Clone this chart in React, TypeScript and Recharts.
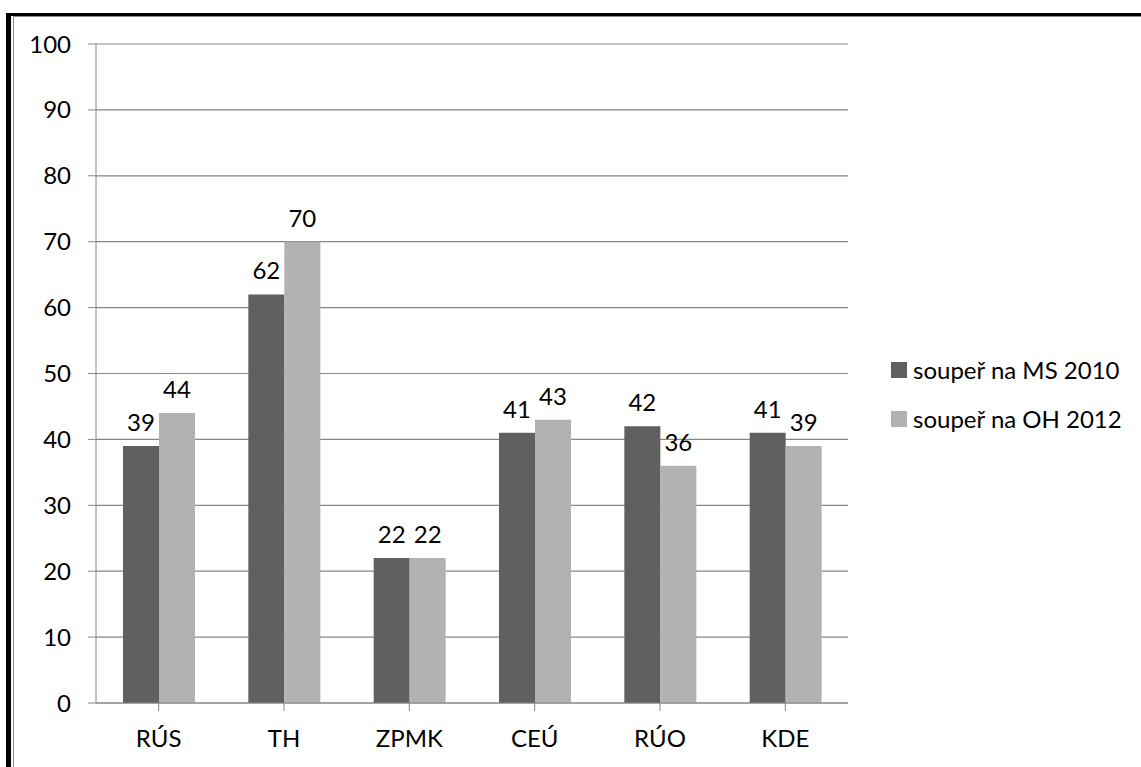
import { BarChart, Bar, XAxis, YAxis, CartesianGrid, Legend, LabelList } from 'recharts';

const categories = ['RÚS', 'TH', 'ZPMK', 'CEÚ', 'RÚO', 'KDE'];
const ms2010 = [39, 62, 22, 41, 42, 41];
const oh2012 = [44, 70, 22, 43, 36, 39];
const yTicks = [0, 10, 20, 30, 40, 50, 60, 70, 80, 90, 100];

const seriesNames = ['soupeř na MS 2010', 'soupeř na OH 2012'];
const seriesColors = ['#606060', '#b2b2b2'];

const data = categories.map((name, i) => ({ name, ms: ms2010[i], oh: oh2012[i] }));

const FONT = 'Lato, "Open Sans", sans-serif';
const FS = 24;
const AXIS_GRAY = '#868686';
const LEGEND_W = 250;

const LegendBox = () => (
  <div style={{ fontFamily: FONT, fontSize: FS, color: '#000' }}>
    {seriesNames.map((n, i) => (
      <div key={n} style={{ display: 'flex', alignItems: 'center', height: 49 }}>
        <span style={{ width: 16, height: 16, background: seriesColors[i], marginRight: 6, display: 'inline-block' }} />
        <span>{n}</span>
      </div>
    ))}
  </div>
);

export default function App() {
  return (
    <div style={{ position: 'fixed', left: 0, top: 0, width: 1141, height: 767, overflow: 'hidden', background: '#fff' }}>
      {/* frame */}
      <div style={{ position: 'absolute', left: 6, top: 13, width: 1200, height: 800, borderLeft: '5px solid #000', borderTop: '3px solid #000' }} />
      <div style={{ position: 'absolute', left: 13, top: 16, width: 1200, height: 800, borderLeft: '1px solid #8a8a8a', borderTop: '1px solid #8a8a8a' }} />
      <div style={{ position: 'absolute', left: 0, top: 0 }}>
        <BarChart
          width={1141}
          height={767}
          data={data}
          margin={{ top: 44, right: 293 - LEGEND_W, bottom: 0, left: 0 }}
          barGap={0}
          barSize={36}
        >
          <CartesianGrid vertical={false} stroke={AXIS_GRAY} strokeWidth={1.2} />
          <XAxis
            dataKey="name"
            height={64}
            stroke={AXIS_GRAY}
            tickSize={8}
            tickMargin={19}
            interval={0}
            tick={{ fill: '#000', fontSize: FS, fontFamily: FONT }}
          />
          <YAxis
            width={96}
            domain={[0, 100]}
            ticks={yTicks}
            stroke={AXIS_GRAY}
            tickSize={8}
            tickMargin={17}
            tick={{ fill: '#000', fontSize: FS, fontFamily: FONT }}
          />
          <Legend
            layout="horizontal"
            verticalAlign="middle"
            align="right"
            content={<LegendBox />}
            wrapperStyle={{ left: 891, top: 345, width: LEGEND_W }}
          />
          <Bar dataKey="ms" name={seriesNames[0]} fill={seriesColors[0]} isAnimationActive={false}>
            <LabelList dataKey="ms" position="top" offset={15} fill="#000" fontSize={FS} fontFamily={FONT} />
          </Bar>
          <Bar dataKey="oh" name={seriesNames[1]} fill={seriesColors[1]} isAnimationActive={false}>
            <LabelList dataKey="oh" position="top" offset={15} fill="#000" fontSize={FS} fontFamily={FONT} />
          </Bar>
        </BarChart>
      </div>
    </div>
  );
}
